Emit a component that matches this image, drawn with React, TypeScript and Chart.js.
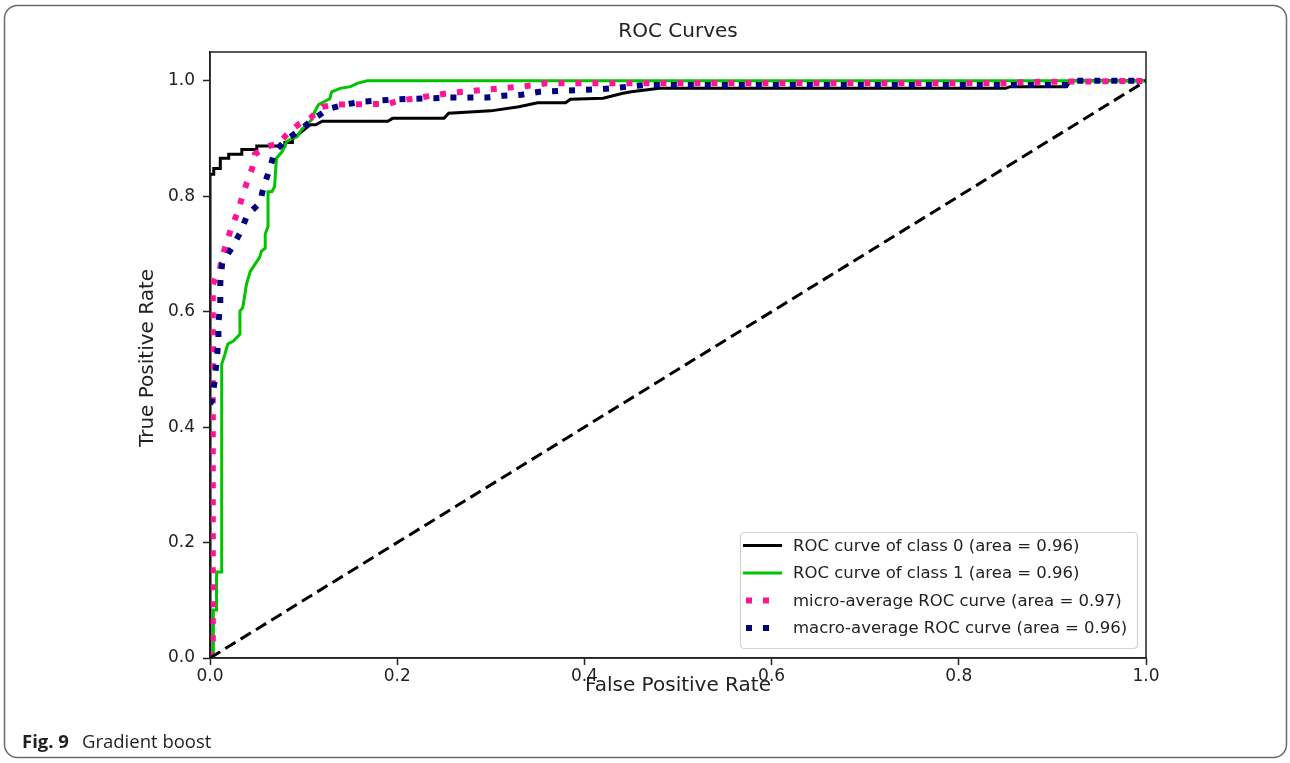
import React, { useEffect, useRef } from "react";
import { Chart, registerables } from "chart.js";

Chart.register(...registerables);

// ROC curve of class 0
const FPR_CLASS0 = [0, 0, 0.004, 0.004, 0.011, 0.011, 0.02, 0.02, 0.034, 0.034, 0.05, 0.05, 0.08, 0.08, 0.088, 0.088, 0.107, 0.113, 0.12, 0.19, 0.195, 0.25, 0.255, 0.3, 0.33, 0.35, 0.38, 0.385, 0.42, 0.44, 0.45, 0.48, 0.85, 0.855, 0.915, 0.92, 1];
const TPR_CLASS0 = [0, 0.838, 0.838, 0.848, 0.848, 0.866, 0.866, 0.873, 0.873, 0.881, 0.881, 0.887, 0.887, 0.893, 0.893, 0.899, 0.924, 0.924, 0.93, 0.93, 0.935, 0.935, 0.944, 0.948, 0.955, 0.962, 0.962, 0.968, 0.97, 0.978, 0.981, 0.987, 0.987, 0.99, 0.99, 1.0, 1.0];

// ROC curve of class 1
const FPR_CLASS1 = [0, 0.0036, 0.0036, 0.007, 0.007, 0.0125, 0.0125, 0.016, 0.019, 0.025, 0.032, 0.032, 0.035, 0.039, 0.043, 0.048, 0.053, 0.055, 0.059, 0.059, 0.062, 0.062, 0.066, 0.069, 0.071, 0.077, 0.082, 0.087, 0.093, 0.098, 0.103, 0.109, 0.112, 0.116, 0.128, 0.13, 0.139, 0.15, 0.158, 0.168, 1];
const TPR_CLASS1 = [0, 0, 0.083, 0.083, 0.149, 0.149, 0.509, 0.527, 0.544, 0.549, 0.561, 0.601, 0.607, 0.648, 0.67, 0.682, 0.694, 0.705, 0.71, 0.734, 0.748, 0.808, 0.808, 0.817, 0.866, 0.877, 0.895, 0.9, 0.903, 0.916, 0.924, 0.933, 0.947, 0.959, 0.969, 0.981, 0.987, 0.99, 0.996, 1.0, 1.0];

// micro-average ROC curve
const FPR_MICRO = [0, 0.003, 0.003, 0.01, 0.014, 0.023, 0.03, 0.034, 0.039, 0.045, 0.048, 0.06, 0.073, 0.085, 0.096, 0.107, 0.12, 0.135, 0.19, 0.2, 0.256, 0.31, 0.344, 0.36, 0.85, 0.87, 1];
const TPR_MICRO = [0, 0.03, 0.648, 0.67, 0.7, 0.747, 0.774, 0.797, 0.822, 0.848, 0.873, 0.886, 0.891, 0.912, 0.926, 0.935, 0.955, 0.959, 0.96, 0.965, 0.979, 0.987, 0.992, 0.996, 0.996, 0.998, 1.0];

// macro-average ROC curve
const FPR_MACRO = [0, 0.002, 0.005, 0.007, 0.009, 0.009, 0.011, 0.011, 0.013, 0.023, 0.032, 0.04, 0.053, 0.058, 0.064, 0.069, 0.082, 0.094, 0.11, 0.126, 0.144, 0.163, 0.2, 0.256, 0.295, 0.313, 0.333, 0.352, 0.41, 0.428, 0.447, 0.467, 0.92, 0.925, 1];
const TPR_MACRO = [0.44, 0.446, 0.48, 0.515, 0.549, 0.58, 0.615, 0.65, 0.684, 0.71, 0.736, 0.768, 0.788, 0.82, 0.848, 0.877, 0.899, 0.912, 0.933, 0.951, 0.959, 0.964, 0.968, 0.971, 0.971, 0.974, 0.976, 0.981, 0.985, 0.987, 0.99, 0.993, 0.993, 1.0, 1.0];

// chance diagonal
const DIAG_X = [0, 1];
const DIAG_Y = [0, 1];

const SERIES_LABELS = [
  "ROC curve of class 0 (area = 0.96)",
  "ROC curve of class 1 (area = 0.96)",
  "micro-average ROC curve (area = 0.97)",
  "macro-average ROC curve (area = 0.96)",
];

const X_TICKS = [0, 0.2, 0.4, 0.6, 0.8, 1.0];
const Y_TICKS = [0, 0.2, 0.4, 0.6, 0.8, 1.0];

const TITLE = "ROC Curves";
const X_LABEL = "False Positive Rate";
const Y_LABEL = "True Positive Rate";
const CAPTION_BOLD = "Fig. 9";
const CAPTION_TEXT = "Gradient boost";

const FONT = "'DejaVu Sans', sans-serif";
const INK = "#222222";

const pts = (xs: number[], ys: number[]) => xs.map((x, i) => ({ x, y: ys[i] }));

const decorations = {
  id: "decorations",
  beforeDraw(chart: any) {
    const { ctx, width, height } = chart;
    ctx.save();
    ctx.fillStyle = "#ffffff";
    ctx.fillRect(0, 0, width, height);
    ctx.restore();
  },
  afterDatasetsDraw(chart: any) {
    const { ctx, chartArea: a } = chart;
    ctx.save();
    ctx.strokeStyle = INK;
    ctx.lineWidth = 1.5;
    ctx.strokeRect(a.left, a.top, a.right - a.left, a.bottom - a.top);
    ctx.restore();
  },
  afterDraw(chart: any) {
    const { ctx, chartArea: a } = chart;
    ctx.save();

    // outer figure frame
    ctx.strokeStyle = "#6a6a6a";
    ctx.lineWidth = 1.5;
    ctx.beginPath();
    ctx.roundRect(4.5, 5.5, 1282, 752, 13);
    ctx.stroke();

    // title and axis labels
    ctx.fillStyle = INK;
    ctx.textAlign = "center";
    ctx.textBaseline = "middle";
    ctx.font = `20px ${FONT}`;
    const cx = (a.left + a.right) / 2;
    ctx.fillText(TITLE, cx, 32);
    ctx.fillText(X_LABEL, cx, 686);
    ctx.save();
    ctx.translate(148, (a.top + a.bottom) / 2 + 3);
    ctx.rotate(-Math.PI / 2);
    ctx.fillText(Y_LABEL, 0, 0);
    ctx.restore();

    // caption
    ctx.textAlign = "left";
    ctx.textBaseline = "alphabetic";
    ctx.fillStyle = "#231f20";
    ctx.font = "bold 18.5px 'Open Sans', sans-serif";
    ctx.fillText(CAPTION_BOLD, 22, 748);
    ctx.font = "18.5px 'Open Sans', sans-serif";
    ctx.fillText(CAPTION_TEXT, 82, 748);

    // legend
    const bx = a.right - 406;
    const by = a.bottom - 126;
    const bw = 397;
    const bh = 116;
    ctx.fillStyle = "rgba(255,255,255,0.85)";
    ctx.strokeStyle = "#d2d2d2";
    ctx.lineWidth = 1.2;
    ctx.beginPath();
    ctx.roundRect(bx + 0.5, by + 0.5, bw, bh, 4);
    ctx.fill();
    ctx.stroke();

    ctx.font = `16.5px ${FONT}`;
    ctx.textBaseline = "middle";
    const rowY = [13.5, 41, 68.5, 96];
    chart.data.datasets.forEach((ds: any, i: number) => {
      if (i >= SERIES_LABELS.length) return;
      const y = by + rowY[i];
      ctx.save();
      ctx.strokeStyle = ds.borderColor;
      ctx.lineWidth = ds.borderWidth;
      ctx.lineCap = "butt";
      const dash = ds.borderDash || [];
      ctx.setLineDash(dash);
      ctx.beginPath();
      if (dash.length) {
        ctx.moveTo(bx + 6, y);
        ctx.lineTo(bx + 40, y);
      } else {
        ctx.moveTo(bx + 3, y);
        ctx.lineTo(bx + 42, y);
      }
      ctx.stroke();
      ctx.restore();
      ctx.fillStyle = INK;
      ctx.fillText(ds.label, bx + 53, y + 1);
    });

    ctx.restore();
  },
};

export default function App() {
  const canvasRef = useRef<HTMLCanvasElement | null>(null);

  useEffect(() => {
    const canvas = canvasRef.current;
    if (!canvas) return;

    const tickFont = { family: FONT, size: 17 };

    const chart = new Chart(canvas, {
      type: "line",
      data: {
        datasets: [
          {
            label: SERIES_LABELS[0],
            data: pts(FPR_CLASS0, TPR_CLASS0),
            borderColor: "#000000",
            borderWidth: 3,
            pointRadius: 0,
            tension: 0,
            order: 5,
          },
          {
            label: SERIES_LABELS[1],
            data: pts(FPR_CLASS1, TPR_CLASS1),
            borderColor: "#00c400",
            borderWidth: 3,
            pointRadius: 0,
            tension: 0,
            order: 4,
          },
          {
            label: SERIES_LABELS[2],
            data: pts(FPR_MICRO, TPR_MICRO),
            borderColor: "#ff1493",
            borderWidth: 6,
            borderDash: [6, 11],
            borderCapStyle: "butt",
            pointRadius: 0,
            tension: 0,
            order: 3,
          },
          {
            label: SERIES_LABELS[3],
            data: pts(FPR_MACRO, TPR_MACRO),
            borderColor: "#000080",
            borderWidth: 6,
            borderDash: [6, 11],
            borderCapStyle: "butt",
            pointRadius: 0,
            tension: 0,
            order: 2,
          },
          {
            label: "",
            data: pts(DIAG_X, DIAG_Y),
            borderColor: "#000000",
            borderWidth: 3,
            borderDash: [12, 6],
            borderCapStyle: "butt",
            pointRadius: 0,
            tension: 0,
            order: 1,
          },
        ],
      },
      options: {
        responsive: false,
        animation: false,
        events: [],
        layout: { padding: { left: 0, top: 52, right: 144, bottom: 0 } },
        plugins: {
          legend: { display: false },
          title: { display: false },
          tooltip: { enabled: false },
        },
        scales: {
          x: {
            type: "linear",
            min: 0,
            max: 1,
            afterFit: (s: any) => {
              s.height = 105;
            },
            afterBuildTicks: (s: any) => {
              s.ticks = X_TICKS.map((v) => ({ value: v }));
            },
            ticks: {
              font: tickFont,
              color: INK,
              padding: 1,
              maxRotation: 0,
              callback: (v: any) => Number(v).toFixed(1),
            },
            grid: {
              drawOnChartArea: false,
              drawTicks: true,
              tickLength: 7,
              tickColor: INK,
              tickWidth: 1.5,
            },
            border: { display: true, color: INK, width: 1.5 },
          },
          y: {
            type: "linear",
            min: 0,
            max: 1.05,
            afterFit: (s: any) => {
              s.width = 210;
            },
            afterBuildTicks: (s: any) => {
              s.ticks = Y_TICKS.map((v) => ({ value: v }));
            },
            ticks: {
              font: tickFont,
              color: INK,
              padding: 8,
              callback: (v: any) => Number(v).toFixed(1),
            },
            grid: {
              drawOnChartArea: false,
              drawTicks: true,
              tickLength: 7,
              tickColor: INK,
              tickWidth: 1.5,
            },
            border: { display: true, color: INK, width: 1.5 },
          },
        },
      },
      plugins: [decorations],
    } as any);

    return () => chart.destroy();
  }, []);

  return (
    <div
      style={{
        position: "fixed",
        left: 0,
        top: 0,
        width: 1290,
        height: 763,
        background: "#ffffff",
      }}
    >
      <canvas ref={canvasRef} width={1290} height={763} />
    </div>
  );
}
